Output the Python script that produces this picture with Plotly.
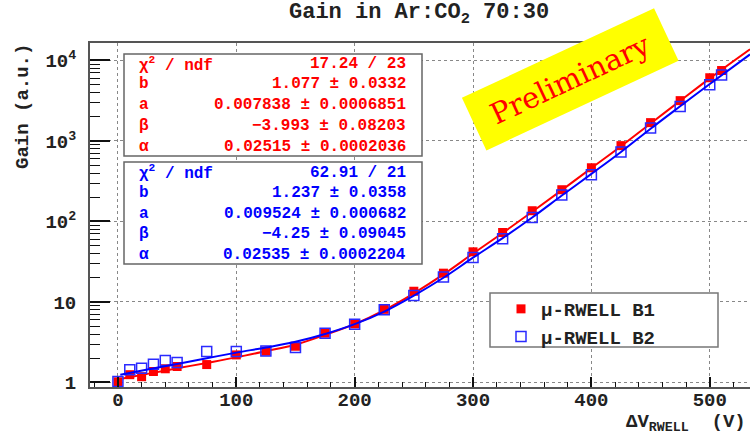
import plotly.graph_objects as go

# ---------------- data ----------------
voltage = [0, 10, 20, 30, 40, 50, 75, 100, 125, 150, 175, 200, 225, 250, 275,
           300, 325, 350, 375, 400, 425, 450, 475, 500, 510]
gain_b1 = [1.02, 1.25, 1.18, 1.37, 1.48, 1.58, 1.67, 2.2, 2.45, 2.82, 4.1, 5.35,
           8.1, 13.6, 22.8, 42, 73, 136, 248, 465, 875, 1690, 3170, 6100, 7500]
gain_b2 = [1.03, 1.44, 1.5, 1.69, 1.88, 1.77, 2.43, 2.43, 2.46, 2.72, 4.1, 5.3,
           8.0, 12.0, 20.4, 35.8, 61, 112, 213, 380, 730, 1450, 2680, 4980, 6600]

fit_v_b1 = [4, 25, 50, 75, 100, 125, 150, 175, 200, 225, 250, 275, 300, 325, 350,
            375, 400, 425, 450, 475, 500, 534]
fit_b1 = [1.12, 1.28, 1.5, 1.75, 2.05, 2.45, 2.95, 3.9, 5.3, 7.9, 12.8, 22, 40, 72,
          132, 245, 460, 860, 1650, 3150, 6000, 13800]
fit_v_b2 = [2, 25, 50, 75, 100, 125, 150, 175, 200, 225, 250, 275, 300, 325, 350,
            375, 400, 425, 450, 475, 500, 534]
fit_b2 = [1.25, 1.45, 1.7, 2.0, 2.35, 2.72, 3.2, 4.0, 5.3, 7.6, 12, 20, 35.5, 62,
          112, 210, 390, 730, 1420, 2700, 5100, 11900]

x_ticks = [0, 100, 200, 300, 400, 500]
y_tick_vals = [1, 10, 100, 1000, 10000]
y_tick_text = ["1", "10", "10<sup>2</sup>", "10<sup>3</sup>", "10<sup>4</sup>"]
y_minor_vals = [m * d for d in [1, 10, 100, 1000, 10000] for m in range(2, 10)]

series_names = ["\u03bc-RWELL B1", "\u03bc-RWELL B2"]

stats_labels = ["\u03c7<sup>2</sup> / ndf", "b", "a", "\u03b2", "\u03b1"]
stats_b1 = ["17.24 / 23", "1.077 \u00b1 0.0332", "0.007838 \u00b1 0.0006851",
            "\u22123.993 \u00b1 0.08203", "0.02515 \u00b1 0.0002036"]
stats_b2 = ["62.91 / 21", "1.237 \u00b1 0.0358", "0.009524 \u00b1 0.000682",
            "\u22124.25 \u00b1 0.09045", "0.02535 \u00b1 0.0002204"]

RED = "#ff0000"
BLUE = "#0000ff"
MONO = "Liberation Mono"

# ---------------- geometry helpers (pixel -> paper) ----------------
L, T, B = 90, 43, 387
W, H = 750, 435
def px_x(p):
    return (p - L) / (W - L)
def px_y(p):
    return (B - p) / (B - T)

fig = go.Figure()

fig.add_trace(go.Scatter(x=voltage, y=gain_b1, mode="markers", name=series_names[0],
                         marker=dict(symbol="square", size=9, color=RED,
                                     line=dict(width=0))))
fig.add_trace(go.Scatter(x=fit_v_b1, y=fit_b1, mode="lines", showlegend=False,
                         line=dict(color=RED, width=2, shape="spline")))
fig.add_trace(go.Scatter(x=voltage, y=gain_b2, mode="markers", name=series_names[1],
                         marker=dict(symbol="square-open", size=10, color="#2a2aff",
                                     line=dict(width=1.5))))
fig.add_trace(go.Scatter(x=fit_v_b2, y=fit_b2, mode="lines", showlegend=False,
                         line=dict(color=BLUE, width=2, shape="spline")))

shapes = []
annotations = []

# stats boxes
for (y0, y1, color, values, rows) in [
    (54, 156, RED, stats_b1, [64, 84, 105, 126, 146.5]),
    (162, 264, BLUE, stats_b2, [172.5, 193, 213.5, 234, 254.5]),
]:
    shapes.append(dict(type="rect", xref="paper", yref="paper",
                       x0=px_x(124), x1=px_x(422), y0=px_y(y1), y1=px_y(y0),
                       fillcolor="white", line=dict(color="#666", width=1.5),
                       layer="above"))
    for lab, val, ry in zip(stats_labels, values, rows):
        annotations.append(dict(xref="paper", yref="paper", x=px_x(137), y=px_y(ry),
                                xanchor="left", yanchor="middle", showarrow=False,
                                text=lab, font=dict(family=MONO, size=16, color=color,
                                                    weight="bold")))
        annotations.append(dict(xref="paper", yref="paper", x=px_x(408), y=px_y(ry),
                                xanchor="right", yanchor="middle", showarrow=False,
                                text=val, font=dict(family=MONO, size=16, color=color,
                                                    weight="bold")))

# legend box
shapes.append(dict(type="rect", xref="paper", yref="paper",
                   x0=px_x(490), x1=px_x(718), y0=px_y(347), y1=px_y(293),
                   fillcolor="white", line=dict(color="#777", width=1.5),
                   layer="above"))

# title
annotations.append(dict(xref="paper", yref="paper", x=px_x(419), y=px_y(14),
                        xanchor="center", yanchor="middle", showarrow=False,
                        text="Gain in Ar:CO<sub>2</sub> 70:30",
                        font=dict(family=MONO, size=22, color="#222", weight="bold")))
# y title
annotations.append(dict(xref="paper", yref="paper", x=px_x(23), y=px_y(107),
                        xanchor="center", yanchor="middle", showarrow=False,
                        textangle=-90, text="Gain (a.u.)",
                        font=dict(family=MONO, size=19, color="#222", weight="bold")))
# x title
annotations.append(dict(xref="paper", yref="paper", x=px_x(748), y=px_y(423),
                        xanchor="right", yanchor="middle", showarrow=False,
                        text="\u0394V<sub>RWELL</sub>  (V)",
                        font=dict(family=MONO, size=19, color="#222", weight="bold")))
# Preliminary stamp
annotations.append(dict(xref="paper", yref="paper", x=px_x(570), y=px_y(80),
                        xanchor="center", yanchor="middle", showarrow=False,
                        text="Preliminary", textangle=-25, width=211, height=57,
                        bgcolor="#ffff00", borderpad=0,
                        font=dict(family="DejaVu Serif", size=29, color=RED)))

tickfont = dict(family=MONO, size=19, color="#222", weight="bold")

fig.update_layout(
    width=W, height=H, autosize=False,
    margin=dict(l=L, r=0, t=T, b=H - B, pad=0),
    plot_bgcolor="white", paper_bgcolor="white",
    shapes=shapes, annotations=annotations,
    showlegend=True,
    legend=dict(x=px_x(501), y=px_y(290), xanchor="left", yanchor="top",
                bgcolor="rgba(0,0,0,0)", borderwidth=0, tracegroupgap=0,
                font=dict(family=MONO, size=19, color="#222", weight="bold")),
    xaxis=dict(range=[-23.6, 534], tickmode="array", tickvals=x_ticks,
               ticks="inside", ticklen=10, tickwidth=1.5, tickcolor="#111",
               minor=dict(dtick=20, tick0=0, ticks="inside", ticklen=5,
                          tickwidth=1.2, tickcolor="#111", showgrid=False),
               showgrid=True, gridcolor="#888", griddash="dot", gridwidth=1,
               showline=True, linecolor="#555", linewidth=2, mirror=True,
               zeroline=False, tickfont=tickfont, ticklabelstandoff=-6),
    yaxis=dict(type="log", range=[-0.056, 4.217], tickmode="array",
               tickvals=y_tick_vals, ticktext=y_tick_text,
               ticks="inside", ticklen=20, tickwidth=1.5, tickcolor="#111",
               minor=dict(tickmode="array", tickvals=y_minor_vals, ticks="inside",
                          ticklen=10, tickwidth=1.2, tickcolor="#111", showgrid=False),
               showgrid=True, gridcolor="#888", griddash="dot", gridwidth=1,
               showline=True, linecolor="#555", linewidth=2, mirror=False,
               zeroline=False, tickfont=tickfont, ticklabelstandoff=8),
)

fig.write_html("out.html", config={"displayModeBar": False},
               post_script="document.body.style.margin='0';"
                           "document.body.style.overflow='hidden';")
